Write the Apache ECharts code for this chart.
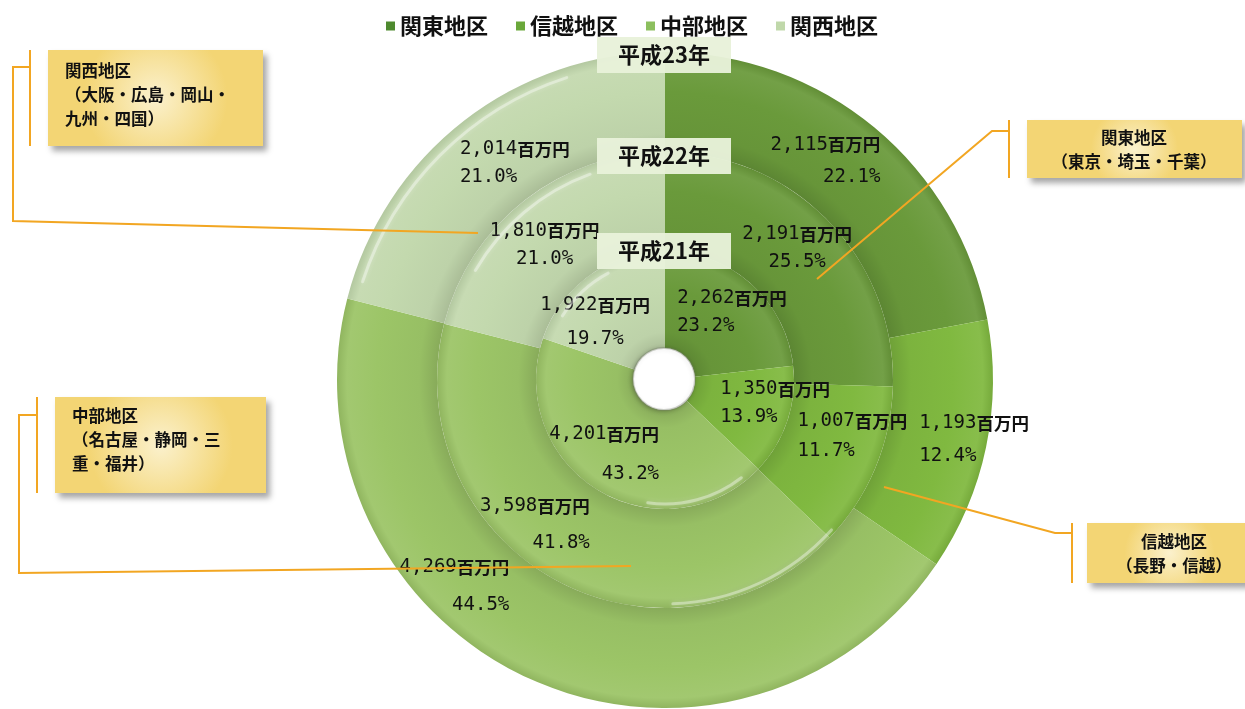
<!DOCTYPE html>
<html><head><meta charset="utf-8">
<script src="https://cdn.jsdelivr.net/npm/echarts@6/dist/echarts.min.js"></script>
<style>html,body{margin:0;padding:0;background:#fff}#c{width:1245px;height:709px}</style>
</head><body><div id="c"></div>
<script>
// ---- data ----
const regions = ['関東地区', '信越地区', '中部地区', '関西地区'];
const years = ['平成21年', '平成22年', '平成23年'];
const valuesH21 = [2262, 1350, 4201, 1922];
const valuesH22 = [2191, 1007, 3598, 1810];
const valuesH23 = [2115, 1193, 4269, 2014];
const pctH21 = [23.2, 13.9, 43.2, 19.7];
const pctH22 = [25.5, 11.7, 41.8, 21.0];
const pctH23 = [22.1, 12.4, 44.5, 21.0];
const calloutTitles = ['関東地区', '信越地区', '中部地区', '関西地区'];
const calloutAreas = ['（東京・埼玉・千葉）', '（長野・信越）', '（名古屋・静岡・三\n重・福井）', '（大阪・広島・岡山・\n九州・四国）'];

// ---- style ----
const cx = 665, cy = 380;
const ringRadii = [[30, 129], [129, 228], [228, 328]];
const baseColors = ['#6a9a3b', '#80b940', '#9cc567', '#c3d9ae'];
const legendColors = ['#4e8a2f', '#6aa83a', '#8cbf5e', '#c0d8aa'];
const labelNudge = [
  [[12, -6], [32, -3], [-18, 4], [-22, 9]],
  [[2, -5], [20, -14], [-42, -14], [-9, 8]],
  [[-19, -3], [34, 2], [-95, -50], [22, 5]]
];
const pctAlign = [
  ['left', 'left', 'right', 'center'],
  ['center', 'left', 'right', 'center'],
  ['right', 'left', 'right', 'left']
];
const rowHeight = [
  [28, 28, 40, 34],
  [28, 30, 37, 28],
  [32, 33, 38, 28]
];
// decorative shine arcs: [radius, fromDeg, toDeg] in math degrees (ccw from +x)
const shineArcs = [[318, 108, 162], [219, 110, 150], [121, 118, 148], [124, -98, -52], [224, -88, -42]];
const fontCJK = '"Noto Sans CJK JP", "Noto Sans", sans-serif';
const fontNum = '"DejaVu Sans Mono", monospace';

function shade(hex, amt) {
  const n = parseInt(hex.slice(1), 16);
  let r = (n >> 16) & 255, g = (n >> 8) & 255, b = n & 255;
  const f = c => Math.max(0, Math.min(255, Math.round(amt >= 0 ? c + (255 - c) * amt : c * (1 + amt))));
  return 'rgb(' + f(r) + ',' + f(g) + ',' + f(b) + ')';
}
function ringGrad(base, r0, r1) {
  const a = r0 / r1;
  const span = 1 - a;
  return {
    type: 'radial', x: cx, y: cy, r: r1, global: true,
    colorStops: [
      { offset: 0, color: shade(base, -0.13) },
      { offset: a, color: shade(base, -0.13) },
      { offset: a + span * 0.18, color: shade(base, -0.03) },
      { offset: a + span * 0.6, color: base },
      { offset: a + span * 0.9, color: shade(base, 0.06) },
      { offset: 1, color: shade(base, -0.08) }
    ]
  };
}
function fmt(v) { return String(v).replace(/\B(?=(\d{3})+(?!\d))/g, ','); }
function makeRich(align, lh) {
  return {
    n: { fontFamily: fontNum, fontSize: 19, color: '#111', lineHeight: lh },
    u: { fontFamily: fontCJK, fontSize: 17.5, fontWeight: 'bold', color: '#111', lineHeight: lh },
    p: { fontFamily: fontNum, fontSize: 19, color: '#111', lineHeight: lh, align }
  };
}

const ringValues = [valuesH21, valuesH22, valuesH23];
const ringPcts = [pctH21, pctH22, pctH23];

const series = ringValues.map((vals, ri) => ({
  type: 'pie',
  name: years[ri],
  center: [cx, cy],
  radius: ringRadii[ri],
  startAngle: 90,
  clockwise: true,
  avoidLabelOverlap: false,
  silent: true,
  emphasis: { disabled: true },
  labelLine: { show: false },
  data: vals.map((v, i) => ({
    name: regions[i],
    value: v,
    itemStyle: { color: ringGrad(baseColors[i], ringRadii[ri][0], ringRadii[ri][1]), borderWidth: 0 },
    label: { rich: makeRich(pctAlign[ri][i], rowHeight[ri][i]) }
  })),
  label: {
    show: true,
    position: 'inside',
    formatter: p => '{n|' + fmt(p.value) + '}{u|百万円}\n{p|' + ringPcts[ri][p.dataIndex].toFixed(1) + '%}',
    rich: makeRich('center', 30)
  },
  labelLayout: p => ({ dx: labelNudge[ri][p.dataIndex][0], dy: labelNudge[ri][p.dataIndex][1] })
}));

// ---- annotations ----
const lineStyle = { stroke: '#f2a622', lineWidth: 2, fill: null };
function poly(points) { return { type: 'polyline', shape: { points }, style: lineStyle, z: 50 }; }
const boxFill = { type: 'radial', x: 0.5, y: 0.5, r: 0.75, colorStops: [{ offset: 0, color: '#fbf1cd' }, { offset: 1, color: '#f3d574' }] };
function box(x, y, w, h) {
  return { type: 'rect', shape: { x, y, width: w, height: h }, style: { fill: boxFill, shadowBlur: 6, shadowOffsetX: 4, shadowOffsetY: 5, shadowColor: 'rgba(0,0,0,0.35)' }, z: 40 };
}
function txt(x, y, text, align, size) {
  const multi = text.indexOf('\n') >= 0;
  return { type: 'text', x, y: multi ? y - 12 : y, style: { text, fill: '#111', font: 'bold ' + size + 'px ' + fontCJK, align, verticalAlign: multi ? 'top' : 'middle', lineHeight: 24 }, z: 60 };
}
function yearTag(y, text) {
  return [
    { type: 'rect', shape: { x: cx - 68, y: y - 18, width: 134, height: 36 }, style: { fill: 'rgba(232,241,218,0.96)' }, z: 45 },
    { type: 'text', x: cx - 1, y: y, style: { text, fill: '#111', font: 'bold 22px ' + fontCJK, align: 'center', verticalAlign: 'middle' }, z: 60 }
  ];
}
function shine(r, a0, a1) {
  const d = Math.PI / 180;
  return {
    type: 'arc', shape: { cx, cy, r, startAngle: -a1 * d, endAngle: -a0 * d, clockwise: true },
    style: { stroke: 'rgba(255,255,255,0.38)', lineWidth: 3, fill: null, shadowBlur: 5, shadowColor: 'rgba(255,255,255,0.7)', lineCap: 'round' },
    z: 30, silent: true
  };
}

const graphics = [
  ...shineArcs.map(a => shine(a[0], a[1], a[2])),
  // soft rim around the centre hole
  { type: 'circle', shape: { cx: cx - 1, cy: cy - 1, r: 31 }, style: { fill: '#fff', stroke: 'rgba(120,130,110,0.35)', lineWidth: 2, shadowBlur: 4, shadowColor: 'rgba(0,0,0,0.25)', shadowOffsetX: -1, shadowOffsetY: 1 }, z: 20, silent: true },
  // leader lines
  poly([[478, 233], [13, 221], [13, 67], [30, 67]]), poly([[30, 50], [30, 146]]),
  poly([[631, 566], [19, 573], [19, 415], [37, 415]]), poly([[37, 397], [37, 493]]),
  poly([[817, 279], [992, 131], [1009, 131]]), poly([[1009, 120], [1009, 178]]),
  poly([[884, 487], [1055, 533], [1072, 533]]), poly([[1072, 523], [1072, 583]]),
  // callout boxes
  box(1027, 120, 215, 58), txt(1134, 138, calloutTitles[0], 'center', 16.5), txt(1134, 162, calloutAreas[0], 'center', 16.5),
  box(1087, 523, 165, 60), txt(1174, 542, calloutTitles[1], 'center', 16.5), txt(1174, 566, calloutAreas[1], 'center', 16.5),
  box(55, 397, 211, 96), txt(72, 416, calloutTitles[2] + '\n' + calloutAreas[2], 'left', 16.5),
  box(48, 50, 215, 96), txt(65, 71, calloutTitles[3] + '\n' + calloutAreas[3], 'left', 16.5),
  // year tags
  ...yearTag(251, years[0]), ...yearTag(156, years[1]), ...yearTag(55, years[2])
];

const chart = echarts.init(document.getElementById('c'), null, { renderer: 'canvas' });
chart.setOption({
  backgroundColor: '#fff',
  animation: false,
  legend: {
    left: 381, top: 10,
    itemWidth: 9, itemHeight: 9, itemGap: 28,
    icon: 'rect',
    selectedMode: false,
    textStyle: { fontFamily: fontCJK, fontSize: 22, fontWeight: 'bold', color: '#111' },
    data: regions.map((n, i) => ({ name: n, itemStyle: { color: legendColors[i] } }))
  },
  series,
  graphic: graphics
});
</script></body></html>
